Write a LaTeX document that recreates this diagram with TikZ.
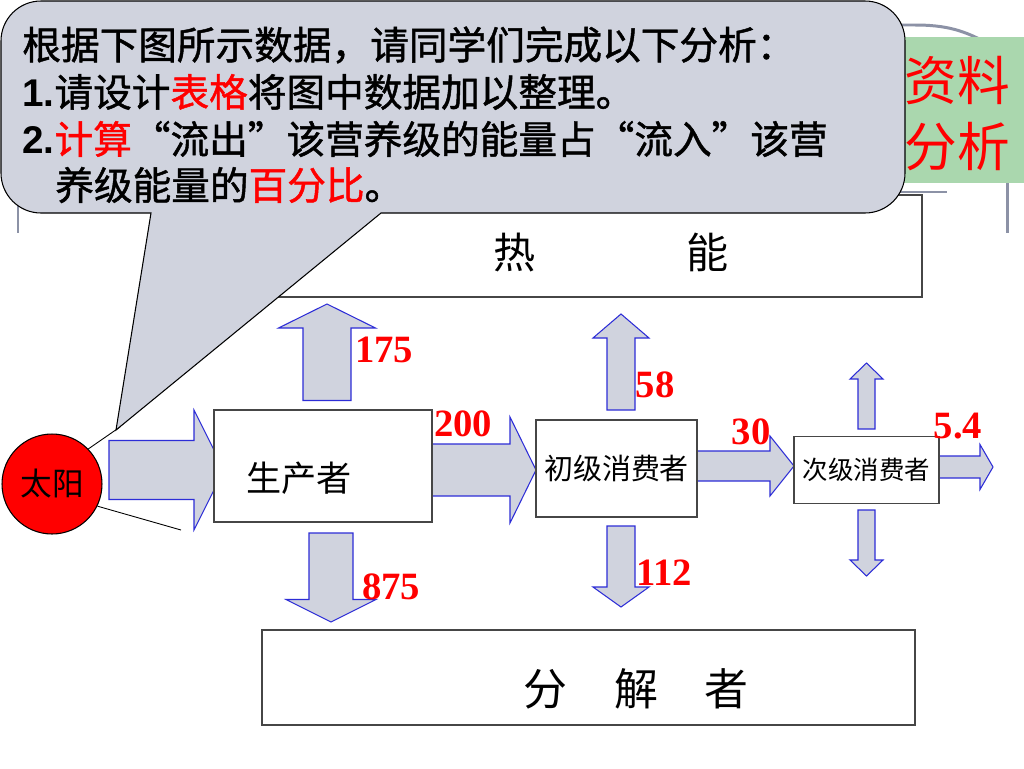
\documentclass[tikz,border=0pt]{standalone}
\usepackage{fontspec}
\setmainfont{Noto Sans CJK SC}
\newfontfamily\heavyfont[FakeBold=1.2]{Noto Sans CJK SC}
\newfontfamily\numfont{Liberation Serif}
\newfontfamily\latinfont{Liberation Sans}
\usepackage{tikz}

\definecolor{flowblue}{RGB}{45,45,215}
\definecolor{flowgray}{RGB}{208,211,222}
\definecolor{notegreen}{RGB}{170,215,174}
\definecolor{decorgray}{RGB}{140,146,166}
\definecolor{boxline}{RGB}{70,70,70}

% block arrows: start, tip, centre line, shaft half width, head half width, head length
\newcommand{\flowright}[6]{\draw[flow] (#1,#3-#4) -- (#2-#6,#3-#4) -- (#2-#6,#3-#5) -- (#2,#3) -- (#2-#6,#3+#5) -- (#2-#6,#3+#4) -- (#1,#3+#4) -- cycle;}
\newcommand{\flowup}[6]{\draw[flow] (#1-#4,#2) -- (#1-#4,#3+#6) -- (#1-#5,#3+#6) -- (#1,#3) -- (#1+#5,#3+#6) -- (#1+#4,#3+#6) -- (#1+#4,#2) -- cycle;}
\newcommand{\flowdown}[6]{\draw[flow] (#1-#4,#2) -- (#1-#4,#3-#6) -- (#1-#5,#3-#6) -- (#1,#3) -- (#1+#5,#3-#6) -- (#1+#4,#3-#6) -- (#1+#4,#2) -- cycle;}

\begin{document}
\begin{tikzpicture}[
    x=0.02cm, y=-0.02cm,
    box/.style={rectangle, draw=boxline, line width=0.8pt, fill=white, inner sep=0pt},
    flow/.style={draw=flowblue, fill=flowgray, line width=0.6pt, line join=miter},
    decor/.style={draw=decorgray, line width=1.7pt},
    ray/.style={draw=black, line width=0.5pt},
    callout/.style={draw=black, fill=flowgray, line width=0.6pt},
    num/.style={text=red, inner sep=0pt, font=\numfont\bfseries\fontsize{22}{24}\selectfont},
    note/.style={anchor=west, inner sep=0pt, font=\heavyfont\fontsize{22}{26}\selectfont},
    title/.style={text=red, inner sep=0pt, font=\fontsize{30}{32}\selectfont}
]
\useasboundingbox (0,0) rectangle (1024,768);
\fill[white] (0,0) rectangle (1024,768);

% frame pieces of the slide
\draw[decor] (18,150) -- (18,233);
\draw[decor] (850,25) -- (915,25) .. controls (945,25) and (965,30) .. (990,45);
\draw[decor] (880,192) -- (947,192);
\draw[decor] (1007,150) -- (1007,233);

% green heading
\fill[notegreen] (903,37) rectangle (1024,183);
\node[title] (head1) at (957,81) {资料};
\node[title] (head2) at (957,147) {分析};

% heat box
\node[box, minimum width=13.64cm, minimum height=2.04cm] (heat) at (581,246) {};
\node[inner sep=0pt, font=\fontsize{24}{26}\selectfont] (heattext) at (611,253) {热\hspace{3.01cm}能};

% sun and its rays
\node[circle, draw=black, line width=0.6pt, fill=red, minimum size=2cm, inner sep=0pt,
      font=\fontsize{18}{20}\selectfont] (sun) at (52,484) {太阳};
\draw[ray] (sun.44) -- (120,427);
\draw[ray] (sun.-26) -- (181,530);

% energy flows
\flowright{109}{224}{470}{29.5}{60}{30}
\flowright{432}{536}{470}{26}{53}{26}
\flowright{697}{794}{466}{15}{30}{24}
\flowright{939}{993}{467}{11}{22.5}{13}
\flowup{327}{400.5}{304}{24}{48.5}{24}
\flowdown{331}{533}{622}{22}{45}{22.5}
\flowup{621}{410}{314}{14}{28}{24}
\flowdown{621}{526}{607}{14}{28}{20}
\flowup{866.5}{429}{363}{8.5}{16.5}{16}
\flowdown{866.5}{510}{576}{8.5}{16.5}{16}

% trophic levels
\node[box, minimum width=4.36cm, minimum height=2.24cm] (prod) at (323,466) {};
\node[inner sep=0pt, font=\fontsize{20}{22}\selectfont] (prodtext) at (299,478) {生产者};
\node[box, minimum width=3.22cm, minimum height=1.94cm, font=\fontsize{16.5}{18}\selectfont] (prim) at (616.5,468.5) {初级消费者};
\node[box, minimum width=2.9cm, minimum height=1.35cm, font=\fontsize{14.5}{16}\selectfont] (sec) at (866.5,470) {次级消费者};
\node[box, minimum width=13.06cm, minimum height=1.9cm] (decomp) at (588.5,677.5) {};
\node[inner sep=0pt, font=\fontsize{25}{27}\selectfont] (decomptext) at (636,689) {分\hspace{0.93cm}解\hspace{0.93cm}者};

% values
\node[num] (v175) at (384,350) {175};
\node[num] (v200) at (463,424) {200};
\node[num] (v875) at (391,587) {875};
\node[num] (v58) at (655,385) {58};
\node[num] (v112) at (664,573) {112};
\node[num] (v30) at (751,432) {30};
\node[num] (v54) at (958,426) {5.4};

% speech bubble
\draw[callout] (116,430) -- (151,213) -- (100,213) [rounded corners=0.8cm] -- (1,213) -- (1,1) -- (905,1) -- (905,213) -- (800,213) [sharp corners] -- (381,213) -- cycle;
\node[note] (q1) at (22,45) {根据下图所示数据，请同学们完成以下分析：};
\node[note] (q2) at (22,92) {{\latinfont\bfseries 1.}请设计{\color{red}表格}将图中数据加以整理。};
\node[note] (q3) at (22,139) {{\latinfont\bfseries 2.}{\color{red}计算}“流出”该营养级的能量占“流入”该营};
\node[note] (q4) at (55,185) {养级能量的{\color{red}百分比}。};

\end{tikzpicture}
\end{document}
